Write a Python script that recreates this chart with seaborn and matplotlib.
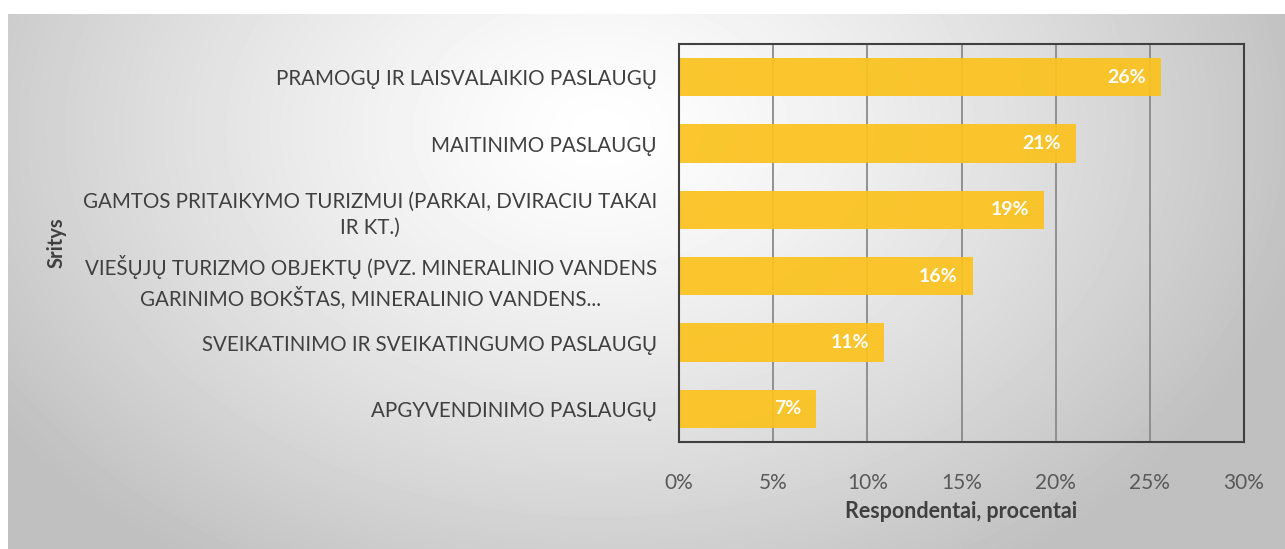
import matplotlib

matplotlib.use('Agg')
import matplotlib.pyplot as plt
import seaborn as sns
import numpy as np
import pandas as pd

# data
categories = [
    'PRAMOGŲ IR LAISVALAIKIO PASLAUGŲ',
    'MAITINIMO PASLAUGŲ',
    'GAMTOS PRITAIKYMO TURIZMUI (PARKAI, DVIRACIU TAKAI\nIR KT.)',
    'VIEŠŲJŲ TURIZMO OBJEKTŲ (PVZ. MINERALINIO VANDENS\nGARINIMO BOKŠTAS, MINERALINIO VANDENS...',
    'SVEIKATINIMO IR SVEIKATINGUMO PASLAUGŲ',
    'APGYVENDINIMO PASLAUGŲ',
]
values = [25.6, 21.1, 19.4, 15.6, 10.9, 7.3]
x_ticks = [0, 5, 10, 15, 20, 25, 30]
x_title = 'Respondentai, procentai'
y_title = 'Sritys'

df = pd.DataFrame({'sritis': categories, 'proc': values})

sns.set_theme(style='white')
plt.rcParams['font.family'] = ['Lato', 'DejaVu Sans']

W, H = 1285, 549
fig = plt.figure(figsize=(W / 100, H / 100), dpi=100, facecolor='white')

# radial grey background like the spreadsheet chart area
bg = fig.add_axes([8 / W, 0, 1 - 8 / W, 535 / H], zorder=-2)
xx, yy = np.meshgrid(np.arange(8, W), np.arange(14, H))
d = np.sqrt(((xx - 600) / 720) ** 2 + ((yy - 130) / 520) ** 2)
shade = 255 - (255 - 192) * np.clip(d, 0, 1) ** 1.3
bg.imshow(shade, cmap='gray', vmin=0, vmax=255, aspect='auto', interpolation='bilinear')
bg.axis('off')

ax = fig.add_axes([679 / W, 1 - 442 / H, (1244 - 679) / W, (442 - 44) / H])
ax.set_facecolor('none')

sns.barplot(data=df, y='sritis', x='proc', orient='h', color='#FBC21E',
            saturation=1, width=0.58, alpha=0.93, linewidth=0, ax=ax, zorder=2)

for i, v in enumerate(df['proc']):
    ax.annotate(f'{round(v)}%', xy=(v, i), xytext=(-11, 0), textcoords='offset points',
                ha='right', va='center', color='white', fontsize=14,
                fontweight='bold', zorder=3)

ax.set_xlim(0, 30)
ax.set_xticks(x_ticks)
ax.set_xticklabels([f'{t}%' for t in x_ticks])
ax.xaxis.grid(True, color='#8a8a8a', linewidth=1.3, zorder=0)
ax.set_axisbelow(True)
for s in ax.spines.values():
    s.set_visible(True)
    s.set_color('#404040')
    s.set_linewidth(1.5)

ax.tick_params(axis='y', length=0, pad=16, labelsize=14.8, labelcolor='#404040')
ax.tick_params(axis='x', length=0, pad=22, labelsize=15, labelcolor='#595959')
for lab in ax.get_yticklabels():
    lab.set_multialignment('center')
    lab.set_linespacing(1.4)

ax.set_xlabel(x_title, fontsize=15.5, fontweight='bold', color='#404040', labelpad=6)
ax.set_ylabel('')
fig.text(57 / W, 1 - 243 / H, y_title, rotation=90, ha='center', va='center',
         fontsize=14.5, fontweight='bold', color='#404040')

plt.savefig('out.png', dpi=100)
plt.close(fig)
